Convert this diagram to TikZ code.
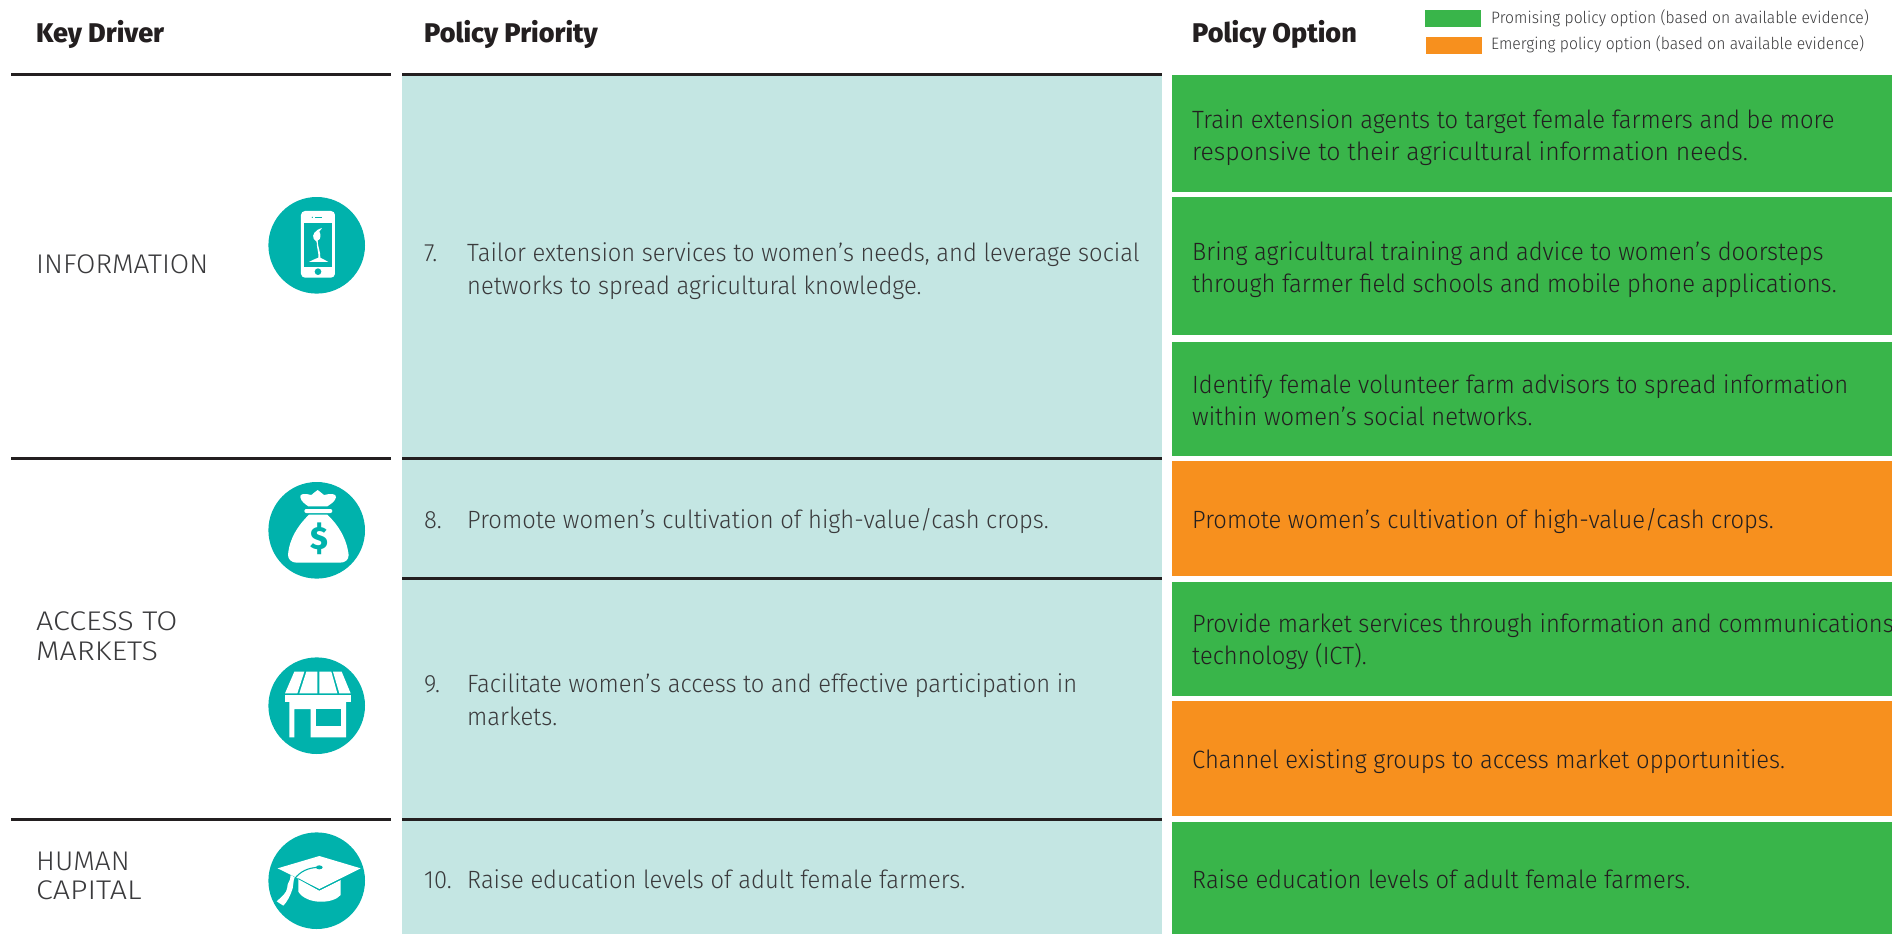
\documentclass[tikz,border=0pt]{standalone}
\usepackage{fontspec}
\setmainfont{Fira Sans}[UprightFont=* Light,BoldFont=* Bold]
\newfontfamily\bodyf{Fira Sans Light}[FakeStretch=0.95]
\newfontfamily\bodyw{Fira Sans Light}[FakeStretch=0.99]
\newfontfamily\drvf{Fira Sans Light}[FakeStretch=1.04]
\newfontfamily\drwf{Fira Sans Light}[FakeStretch=1.13]
\newfontfamily\headf{Fira Sans ExtraBold}[FakeStretch=1.0]
\definecolor{ink}{HTML}{231F20}
\definecolor{bodyink}{HTML}{3A3A3C}
\definecolor{tealc}{HTML}{00B2AC}
\definecolor{palet}{HTML}{C4E6E3}
\definecolor{greenc}{HTML}{39B54A}
\definecolor{orangec}{HTML}{F7901E}
\tikzset{
 hdr/.style={anchor=base west,inner sep=0pt,text=ink,font=\headf\fontsize{27}{30}\selectfont},
 drv/.style={anchor=base west,inner sep=0pt,text=bodyink,align=left,font=\drvf\fontsize{27}{30}\selectfont},
 drw/.style={anchor=base west,inner sep=0pt,text=bodyink,align=left,font=\drwf\fontsize{27}{30}\selectfont},
 txt/.style={anchor=base west,inner sep=0pt,text=bodyink,font=\bodyf\fontsize{25}{33}\selectfont},
 opt/.style={anchor=base west,inner sep=0pt,text=ink,font=\bodyf\fontsize{25}{33}\selectfont},
 optw/.style={anchor=base west,inner sep=0pt,text=ink,font=\bodyw\fontsize{25}{33}\selectfont},
 leg/.style={anchor=base west,inner sep=0pt,text=bodyink,font=\bodyf\fontsize{16.5}{20}\selectfont},
 rulel/.style={line width=3pt,color=ink},
 disc/.style={circle,fill=tealc,draw=none,minimum size=96.6pt,inner sep=0pt},
 ic/.style={fill=white,draw=none},
 icd/.style={fill=tealc,draw=none},
}
\begin{document}
\begin{tikzpicture}[x=1pt,y=-1pt]
\useasboundingbox (0,0) rectangle (1892,934);
\fill[white] (0,0) rectangle (1892,934);
% column fills
\fill[palet] (402,74) rectangle (1162,934);
\fill[greenc] (1172,74.7) rectangle (1892,191.8);
\fill[greenc] (1172,197.3) rectangle (1892,335.4);
\fill[greenc] (1172,341.5) rectangle (1892,456);
\fill[orangec] (1172,461) rectangle (1892,575.6);
\fill[greenc] (1172,581.6) rectangle (1892,696);
\fill[orangec] (1172,701) rectangle (1892,815.7);
\fill[greenc] (1172,821.7) rectangle (1892,934);
% rules
\foreach \y in {74.5,458.7,819}{
 \draw[rulel] (11,\y) -- (391,\y);
 \draw[rulel] (402,\y) -- (1162,\y);
}
\draw[rulel] (402,578.4) -- (1162,578.4);
% legend
\fill[greenc] (1425,10) rectangle (1481,26.7);
\fill[orangec] (1426,37) rectangle (1482,53.7);
\node[leg] (lega) at (1491,24) {Promising policy option (based on available evidence)};
\node[leg] (legb) at (1491,49) {Emerging policy option (based on available evidence)};
% headers
\node[hdr] (h1) at (36,43) {Key Driver};
\node[hdr] (h2) at (424,43) {Policy Priority};
\node[hdr] (h3) at (1192,43) {Policy Option};
% drivers
\node[drv] (d1) at (36,273.5) {INFORMATION};
\node[drw] (d2a) at (36,630) {ACCESS TO};
\node[drw] (d2b) at (36,660) {MARKETS};
\node[drv] (d3a) at (36,870) {HUMAN};
\node[drw] (d3b) at (36,899) {CAPITAL};
% priorities
\node[txt] (n7) at (424,261) {7.};
\node[txt] (p7a) at (467,261) {Tailor extension services to women’s needs, and leverage social};
\node[txt] (p7b) at (467,294) {networks to spread agricultural knowledge.};
\node[txt] (n8) at (424,528) {8.};
\node[txt] (p8) at (467,528) {Promote women’s cultivation of high-value/cash crops.};
\node[txt] (n9) at (424,692) {9.};
\node[txt] (p9a) at (467,692) {Facilitate women’s access to and effective participation in};
\node[txt] (p9b) at (467,725) {markets.};
\node[txt] (n10) at (424,888) {10.};
\node[txt] (p10) at (467,888) {Raise education levels of adult female farmers.};
% options
\node[opt] (o1a) at (1192,128) {Train extension agents to target female farmers and be more};
\node[optw] (o1b) at (1192,160) {responsive to their agricultural information needs.};
\node[opt] (o2a) at (1192,260) {Bring agricultural training and advice to women’s doorsteps};
\node[opt] (o2b) at (1192,292) {through farmer field schools and mobile phone applications.};
\node[opt] (o3a) at (1192,393) {Identify female volunteer farm advisors to spread information};
\node[opt] (o3b) at (1192,425) {within women’s social networks.};
\node[opt] (o4) at (1192,528) {Promote women’s cultivation of high-value/cash crops.};
\node[opt] (o5a) at (1192,632) {Provide market services through information and communications};
\node[opt] (o5b) at (1192,664) {technology (ICT).};
\node[opt] (o6) at (1192,768) {Channel existing groups to access market opportunities.};
\node[opt] (o7) at (1192,888) {Raise education levels of adult female farmers.};
% discs
\node[disc] (c1) at (316.7,245.3) {};
\node[disc] (c2) at (316.7,530.3) {};
\node[disc] (c3) at (316.7,705.7) {};
\node[disc] (c4) at (316.7,880.7) {};
% phone
\begin{scope}[scale=1/3]
\fill[ic,rounded corners=4pt] (903,633) rectangle (1005,833);
\fill[icd] (912,669) rectangle (997,800);
\fill[icd] (954,815) circle (10);
\fill[icd] (945,650) rectangle (965,654);
\fill[icd] (937,652) circle (2);
\fill[ic] (966,684) .. controls (945,690) and (935,705) .. (941,716) .. controls (945,724) and (950,722) .. (950,725)
  .. controls (950,745) and (957,760) .. (955,773) .. controls (945,778) and (935,780) .. (927,786) -- (985,786)
  .. controls (978,780) and (968,778) .. (961,773) .. controls (962,755) and (953,740) .. (953,722)
  .. controls (965,718) and (962,700) .. (958,695) .. controls (960,690) and (963,688) .. (966,684) -- cycle;
\end{scope}
% money bag
\begin{scope}[shift={(240,440)},scale=1/3]
\fill[ic] (181,172) .. controls (178,160) and (195,160) .. (214,165) .. controls (222,160) and (228,152) .. (233,150)
  .. controls (238,152) and (244,160) .. (252,165) .. controls (270,160) and (290,160) .. (288,172)
  .. controls (285,185) and (272,192) .. (262,199) -- (205,199) .. controls (195,192) and (184,185) .. (181,172) -- cycle;
\fill[ic,rounded corners=2pt] (193,207) rectangle (277,219);
\fill[ic] (207,224) -- (262,224) .. controls (295,255) and (320,295) .. (326,345)
  .. controls (326,360) and (315,368) .. (300,368) -- (170,368)
  .. controls (155,368) and (144,358) .. (144,345) .. controls (148,295) and (175,255) .. (207,224) -- cycle;
\node[text=tealc,inner sep=0pt,font=\headf\fontsize{32}{32}\selectfont] (dollar) at (237,297) {\$};
\end{scope}
% shop
\begin{scope}[shift={(240,440)},scale=1/3]
\fill[ic] (163,695) -- (193,695) -- (172,760) -- (135,760) -- cycle;
\fill[ic] (199,695) -- (232,695) -- (232,760) -- (178,760) -- cycle;
\fill[ic] (238,695) -- (274,695) -- (292,760) -- (238,760) -- cycle;
\fill[ic] (279,695) -- (305,695) -- (332,760) -- (298,760) -- cycle;
\fill[ic] (135,766) rectangle (332,786);
\fill[ic] (148,786) -- (318,786) -- (318,892) -- (212,892) -- (212,807) -- (163,807) -- (163,892) -- (148,892) -- cycle;
\fill[icd] (227,807) rectangle (304,857);
\end{scope}
% mortarboard
\begin{scope}[shift={(240,780)},scale=1/3]
\fill[ic] (175,296) -- (238,332) -- (302,300) -- (302,345) .. controls (280,372) and (200,375) .. (175,335) -- cycle;
\fill[ic] (238,228) -- (362,265) -- (238,327) -- (113,265) -- cycle;
\draw[tealc,line width=0.8pt] (175,296) -- (238,330) -- (302,298);
\draw[tealc,line width=1.1pt] (238,262) .. controls (205,262) and (180,275) .. (164,296);
\fill[icd] (238,262) ellipse (10 and 6);
\fill[ic] (152,285) -- (164,292) .. controls (158,305) and (162,315) .. (158,325) .. controls (152,345) and (142,365) .. (130,377)
  -- (110,364) .. controls (125,350) and (140,340) .. (142,322) .. controls (140,310) and (152,305) .. (152,285) -- cycle;
\end{scope}
\end{tikzpicture}
\end{document}
